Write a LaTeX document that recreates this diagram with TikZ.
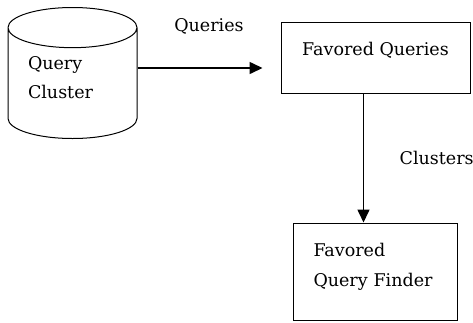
\documentclass[tikz,border=0pt]{standalone}
\usepackage{fontspec}
\setmainfont{DejaVu Serif}
\usetikzlibrary{positioning,shapes.geometric,arrows.meta}

\begin{document}
\begin{tikzpicture}[x=1pt,y=1pt,node distance=2cm,on grid,
    >={Triangle[length=13pt,width=12pt]},
    every node/.style={font=\fontsize{17.5}{29.5}\selectfont},
    store/.style={cylinder,shape border rotate=90,draw,line width=1pt,
        minimum width=129pt,minimum height=131pt,aspect=0.42,
        align=left,text width=89pt},
    block/.style={rectangle,draw,line width=1pt,inner sep=0pt},
    flow/.style={->,line width=1.6pt}]
    \useasboundingbox (0,0) rectangle (473,-322);

    \node[store, anchor=north, text depth=47pt] (qc) at (72.5,-7) {Query\\Cluster};
    \node[block, minimum width=189pt, minimum height=71pt, text depth=18pt]
        (fq)  at (375.5,-57.5) {Favored Queries};
    \node[block, text width=124pt, inner xsep=20pt, minimum height=97pt,
        text depth=43pt, align=left]
        (fqf) [below=214pt of fq] {Favored\\Query Finder};

    \draw[flow, shorten >=18pt] (qc.east |- 0,-68) --
        node[midway, above=30pt] {Queries} (fq.west |- 0,-68);
    \draw[flow] ([xshift=-12pt]fq.south) --
        node[midway, right=32pt] {Clusters} ([xshift=-12pt]fqf.north);
\end{tikzpicture}
\end{document}
